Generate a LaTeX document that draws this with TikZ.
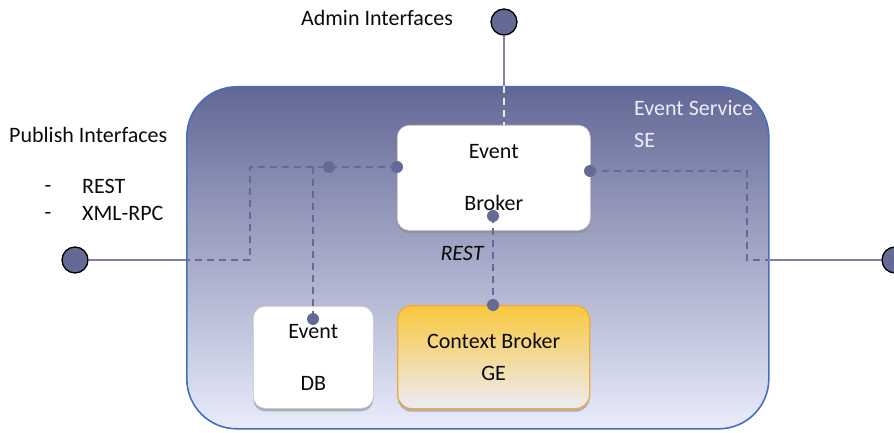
\documentclass[tikz,border=0pt]{standalone}
\usepackage{fontspec}
\setmainfont{Carlito}
\usetikzlibrary{shadows}
\definecolor{ln}{RGB}{100,106,150}
\definecolor{solidc}{RGB}{125,128,175}
\definecolor{boxtop}{RGB}{98,103,150}
\definecolor{boxbot}{RGB}{232,236,250}
\definecolor{boxborder}{RGB}{70,110,190}
\definecolor{orgtop}{RGB}{250,200,60}
\definecolor{orgbot}{RGB}{236,236,246}
\definecolor{orgborder}{RGB}{240,170,60}
\definecolor{txt}{RGB}{10,10,10}
\definecolor{wtxt}{RGB}{235,238,248}
\tikzset{
  lbl/.style={font=\fontsize{22}{26}\selectfont, text=txt, inner sep=0pt},
  wlbl/.style={font=\fontsize{22}{26}\selectfont, text=wtxt, inner sep=0pt, anchor=west},
  whitebox/.style={draw=black!20, line width=0.6pt, fill=white, rounded corners=12pt, anchor=north west,
     drop shadow={shadow xshift=0pt, shadow yshift=-3pt, fill=black!45, opacity=0.6},
     align=center, font=\fontsize{22}{26}\selectfont, text=txt, inner sep=0pt},
  orangebox/.style={draw=orgborder, line width=1.3pt, top color=orgtop, bottom color=orgbot, rounded corners=14pt, anchor=north west,
     drop shadow={shadow xshift=0pt, shadow yshift=-3pt, fill=black!45, opacity=0.6},
     align=center, font=\fontsize{22}{32}\selectfont, text=txt, inner sep=0pt},
  dot/.style={circle, fill=ln, minimum size=12pt, inner sep=0pt},
  port/.style={circle, fill=ln, draw=black, line width=1.3pt, minimum size=26pt, inner sep=0pt},
  dashln/.style={draw=ln, line width=1.8pt, dash pattern=on 7pt off 5pt},
  solidln/.style={draw=solidc, line width=1.3pt},
}
\begin{document}
\begin{tikzpicture}[x=1pt,y=-1pt]
\useasboundingbox (0,0) rectangle (894,433);

% main service box
\node[draw=boxborder, line width=1.6pt, rounded corners=50pt, top color=boxtop, bottom color=boxbot,
      minimum width=582pt, minimum height=342pt, anchor=north west, inner sep=0pt] (svc) at (186,86) {};

% labels
\node[lbl] (admlbl) at (377,18) {Admin Interfaces};
\node[lbl, anchor=west] (publbl) at (9,135) {Publish Interfaces};
\node[lbl] (dash1) at (48,189) {-};
\node[lbl, anchor=west] (rest1) at (82,186) {REST};
\node[lbl] (dash2) at (48,216) {-};
\node[lbl, anchor=west] (xml) at (82,213) {XML-RPC};
\node[wlbl] (es) at (634,108) {Event Service};
\node[wlbl] (se) at (634,140) {SE};
\node[lbl, font=\fontsize{22}{26}\selectfont\itshape] (restlbl) at (462,253) {REST};

% boxes
\node[whitebox, minimum width=193pt, minimum height=105pt] (eb) at (397,125) {Event\\[26pt]Broker};
\node[whitebox, minimum width=120pt, minimum height=102pt] (db) at (253,306) {Event\\[26pt]DB};
\node[orangebox, minimum width=192pt, minimum height=103pt] (cb) at (397,305) {Context Broker\\GE};

% ports
\node[port] (adm) at (504,22) {};
\node[port] (pubL) at (75,260) {};
\node[port] (pubR) at (895,260) {};

% coordinates
\coordinate (admtop) at (504,86);
\coordinate (lc1) at (250,167);
\coordinate (lc2) at (250,260);
\coordinate (svcL) at (186,260);
\coordinate (dbtop) at (313,167);
\coordinate (rc1) at (747,171);
\coordinate (rc2) at (747,260);
\coordinate (svcR) at (768,260);

% connectors
\draw[solidln] (adm) -- (admtop);
\draw[dashln, draw=white!85!ln] (admtop) -- (admtop |- eb.north);
\draw[solidln] (pubL) -- (svcL);
\draw[dashln] (397,167) -- (lc1) -- (lc2) -- (svcL);
\draw[dashln] (dbtop) -- (313,319);
\draw[dashln] (590,171) -- (rc1) -- (rc2) -- (svcR);
\draw[solidln] (svcR) -- (pubR);
\draw[dashln] (493,216) -- (493,305);

% dots
\node[dot] (d1) at (397,167) {};
\node[dot] (d2) at (329,167) {};
\node[dot] (d3) at (590,171) {};
\node[dot] (d4) at (493,216) {};
\node[dot] (d5) at (493,305) {};
\node[dot] (d6) at (313,319) {};
\end{tikzpicture}
\end{document}
